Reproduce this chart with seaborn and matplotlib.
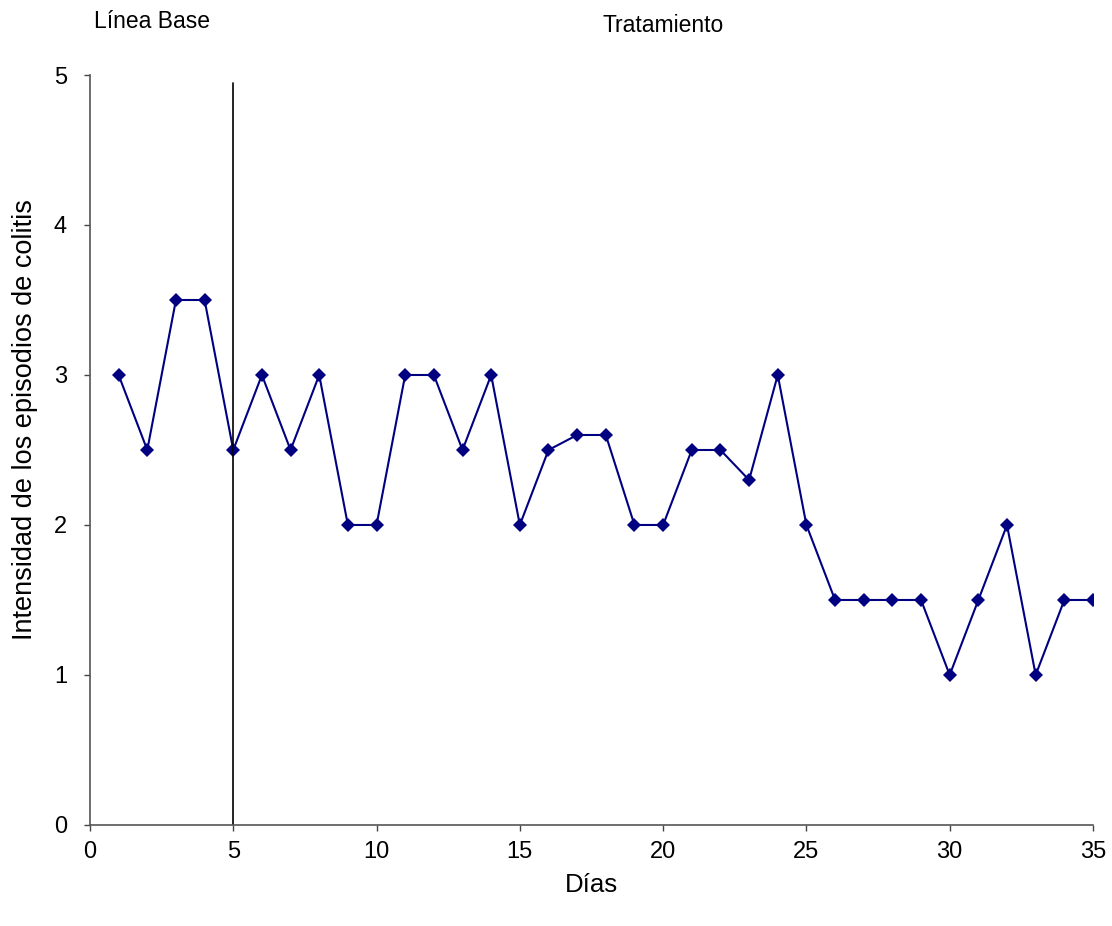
import matplotlib
matplotlib.use("Agg")
import matplotlib.pyplot as plt
import seaborn as sns
import pandas as pd

dias = list(range(1, 36))
intensidad = [3, 2.5, 3.5, 3.5, 2.5, 3, 2.5, 3, 2, 2,
              3, 3, 2.5, 3, 2, 2.5, 2.6, 2.6, 2, 2,
              2.5, 2.5, 2.3, 3, 2, 1.5, 1.5, 1.5, 1.5, 1,
              1.5, 2, 1, 1.5, 1.5]
x_ticks = [0, 5, 10, 15, 20, 25, 30, 35]
y_ticks = [0, 1, 2, 3, 4, 5]
cambio_fase = 5

sns.set_theme(style="white")
plt.rcParams["font.family"] = ["Liberation Sans", "DejaVu Sans"]

df = pd.DataFrame({"Días": dias, "Intensidad": intensidad})

fig = plt.figure(figsize=(11.12, 9.26), dpi=100)
ax = fig.add_axes([0.0809, 0.1091, 0.9020, 0.8099])

sns.lineplot(data=df, x="Días", y="Intensidad", ax=ax, color="#000080",
             linewidth=1.5, marker="D", markersize=7, markeredgewidth=0,
             markeredgecolor="#000080")

# phase-change line between baseline and treatment
ax.plot([cambio_fase, cambio_fase], [0, 4.95], color="black", linewidth=1.2)

ax.set_xlim(0, 35)
ax.set_ylim(0, 5)
ax.set_xticks(x_ticks)
ax.set_yticks(y_ticks)
ax.tick_params(axis="both", direction="out", length=4.5, width=1,
               color="#444444", labelsize=17, left=True, bottom=True,
               labelcolor="black")
ax.tick_params(axis="y", pad=12)
ax.tick_params(axis="x", pad=7)
for s in ["top", "right"]:
    ax.spines[s].set_visible(False)
for s in ["left", "bottom"]:
    ax.spines[s].set_color("#555555")
    ax.spines[s].set_linewidth(1.2)

ax.set_xlabel("Días", fontsize=18.5, color="black")
ax.set_ylabel("Intensidad de los episodios de colitis", fontsize=19.5,
              color="black")
ax.xaxis.set_label_coords(0.5, -0.064)
ax.yaxis.set_label_coords(-0.052, 0.54)

fig.text(152 / 1112, 1 - 22 / 926, "Línea Base", fontsize=16.5, ha="center",
         va="center", color="black")
fig.text(663 / 1112, 1 - 26 / 926, "Tratamiento", fontsize=16.5, ha="center",
         va="center", color="black")

fig.savefig("out.png", dpi=100, facecolor="white")
